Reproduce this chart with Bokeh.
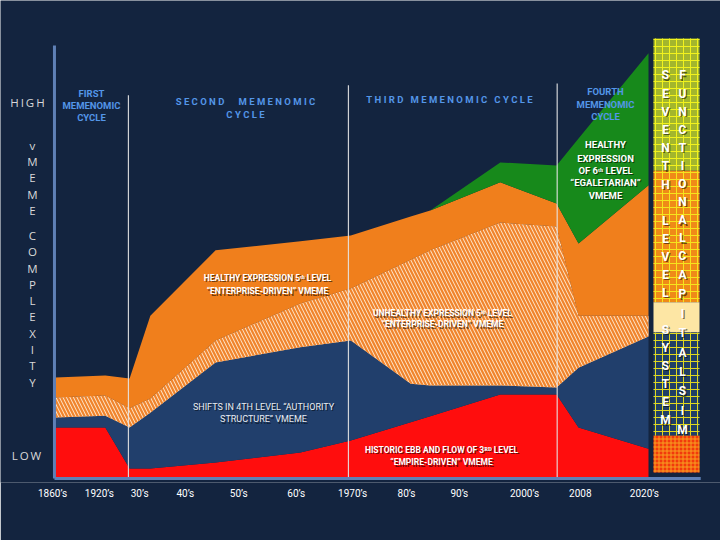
from bokeh.plotting import figure
from bokeh.models import Range1d, FixedTicker, ColumnDataSource
from bokeh.embed import file_html
from bokeh.resources import INLINE
from bokeh.core.properties import value

# ---------------- data (x: timeline position 0-100, y: vMEME complexity 0-100) -------------
era_x = [0, 8.4, 12.5, 16.0, 27.0, 41.3, 49.8, 59.9, 63.2, 75.0, 84.5, 88.2, 100]
empire_top = [11.8, 11.8, 2.3, 2.3, 3.7, 6.0, 8.8, 13.0, 14.4, 19.4, 19.4, 11.8, 6.9]
authority_top = [14.1, 14.5, 11.8, 15.2, 26.8, 30.3, 31.9, 21.9, 21.5, 21.5, 21.0, 25.6, 32.8]
unhealthy5_top = [18.7, 19.2, 16.2, 18.5, 31.9, 40.4, 43.9, 50.5, 52.7, 59.1, 58.2, 37.6, 37.6]
healthy5_top = [23.3, 23.8, 23.1, 37.6, 52.7, 54.8, 56.1, 60.5, 61.9, 68.4, 63.5, 54.3, 67.7]
healthy6_top = [23.3, 23.8, 23.1, 37.6, 52.7, 54.8, 56.1, 60.5, 61.9, 73.0, 72.3, 78.5, 98.2]

tick_pos = [-0.5, 7.4, 14.2, 21.9, 30.9, 40.6, 50.1, 59.2, 68.1, 79.1, 88.5, 99.3]
tick_labels = ["1860’s", "1920’s", "30’s", "40’s", "50’s", "60’s", "1970’s",
               "80’s", "90’s", "2000’s", "2008", "2020’s"]

cycle_bounds = [12.3, 49.4, 84.6]
cycle_tops = [88.5, 90.8, 91.2]

column_bottoms = [71.1, 40.7, 33.7, 9.9, 1.4]
column_tops = [101.6, 71.1, 40.7, 33.7, 9.9]

# ---------------- styling ----------------
BG = "#13243f"
RED = "#ff0d0d"
NAVY = "#213f6c"
ORANGE = "#f07f1c"
PEACH = "#fde3c6"
GREEN = "#17891b"
CYCLE_BLUE = "#5496e8"
AXIS_BLUE = "#5f80b6"
SANS = value("Roboto")
NB = "\u00a0"


def spaced(s, gap=1):
    """letter-spaced title using non-collapsing spaces"""
    words = s.split(" ")
    return (NB * (gap + 2)).join((NB * gap).join(list(w)) for w in words)


p = figure(width=720, height=540,
           x_range=Range1d(-9.27, 112.14), y_range=Range1d(-0.92, 110.39),
           output_backend="svg", toolbar_location=None, y_axis_location=None,
           min_border_left=0, min_border_right=0, min_border_top=0, min_border_bottom=58,
           background_fill_color=BG, border_fill_color=BG, outline_line_color=None)
p.grid.grid_line_color = None

zeros = [0] * len(era_x)
p.varea(x=era_x, y1=zeros, y2=empire_top, fill_color=RED)
p.varea(x=era_x, y1=empire_top, y2=authority_top, fill_color=NAVY)
p.varea(x=era_x, y1=authority_top, y2=unhealthy5_top, fill_color=PEACH,
        hatch_pattern="\\", hatch_color="#f0842c", hatch_scale=7, hatch_weight=2.2)
p.varea(x=era_x, y1=unhealthy5_top, y2=healthy5_top, fill_color=ORANGE)
p.varea(x=era_x, y1=healthy5_top, y2=healthy6_top, fill_color=GREEN)

# cycle boundaries
p.segment(x0=cycle_bounds, y0=[0] * 3, x1=cycle_bounds, y1=cycle_tops,
          line_color="#e6e6e6", line_width=1.2, line_alpha=0.9)

# axes lines
p.segment(x0=[-0.17, -0.17], y0=[0, 0], x1=[-0.17, 108.8], y1=[100, 0],
          line_color=AXIS_BLUE, line_width=3)

# right column (seventh level functional capitalism)
col_fill = ["#a3b62d", "#ef8a18", "#fde6a4", "#203f66", "#f23a0c"]
col_hatch = ["#f2f21d", "#f5e41d", "#fde6a4", "#e0d820", "#f7a020"]
col_pattern = ["+", "+", " ", "+", "+"]
col_scale = [7, 7, 7, 7, 4]
for b, t, f, hc, hp, hs in zip(column_bottoms, column_tops, col_fill, col_hatch, col_pattern, col_scale):
    p.quad(left=100.84, right=108.6, bottom=b, top=t, fill_color=f, line_color=None,
           hatch_pattern=hp, hatch_color=hc, hatch_scale=hs, hatch_weight=1)


def add_text(xs, ys, texts, size, color, bold=True, shadow=True, font=SANS):
    src = ColumnDataSource(dict(x=xs, y=ys, t=texts))
    style = "bold" if bold else "normal"
    if shadow:
        p.text(x="x", y="y", text="t", source=src, text_font=font, text_font_size=size,
               text_font_style=style, text_color="#000000", text_alpha=0.55,
               text_align="center", text_baseline="middle", x_offset=1.2, y_offset=1.2)
    p.text(x="x", y="y", text="t", source=src, text_font=font, text_font_size=size,
           text_font_style=style, text_color=color,
           text_align="center", text_baseline="middle")


# left side vertical axis texts
LEFT_FONT = value("Open Sans")
add_text([-4.72, -4.89], [86.84, 5.31], ["H\u2009I\u2009G\u2009H", "L\u2009O\u2009W"], "11.5px",
         "#d9d9d9", bold=False, shadow=False, font=LEFT_FONT)
vm = "vMEME"
cx = "COMPLEXITY"
add_text([-3.88] * len(vm), [76.9 - 3.74 * i for i in range(len(vm))], list(vm), "11.5px",
         "#d9d9d9", bold=False, shadow=False, font=LEFT_FONT)
add_text([-3.88] * len(cx), [56.12 - 3.76 * i for i in range(len(cx))], list(cx), "11.5px",
         "#d9d9d9", bold=False, shadow=False, font=LEFT_FONT)

# cycle titles
add_text([6.07, 6.07, 6.07], [88.9, 86.2, 83.4], ["FIRST", "MEMENOMIC", "CYCLE"],
         "9.5px", CYCLE_BLUE, shadow=False)
add_text([32.04, 32.04], [87.07, 84.06], [spaced("SECOND  MEMENOMIC"), spaced("CYCLE")],
         "9.5px", CYCLE_BLUE, shadow=False)
add_text([66.44], [87.53], [spaced("THIRD MEMENOMIC CYCLE")],
         "9.5px", CYCLE_BLUE, shadow=False)
add_text([92.75, 92.75, 92.75], [89.38, 86.37, 83.6], ["FOURTH", "MEMENOMIC", "CYCLE"],
         "9.5px", CYCLE_BLUE, shadow=False)

# area labels
add_text([35.75, 35.75], [46.42, 43.19],
         ["HEALTHY EXPRESSION 5ᵗʰ LEVEL", "“ENTERPRISE-DRIVEN” VMEME"], "8.5px", "white")
add_text([65.26, 65.26], [38.11, 35.57],
         ["UNHEALTHY EXPRESSION 5ᵗʰ LEVEL", "“ENTERPRISE-DRIVEN” VMEME"], "8.5px", "white")
add_text([35.08, 35.08], [16.63, 13.63],
         ["SHIFTS IN 4TH LEVEL “AUTHORITY", "STRUCTURE” VMEME"], "9px", "#e8ecf2",
         bold=False)
add_text([65.09, 65.09], [6.70, 3.70],
         ["HISTORIC EBB AND FLOW OF 3ᴿᴰ LEVEL", "“EMPIRE-DRIVEN” VMEME"], "8.5px", "white")
add_text([92.75] * 5, [77.14, 73.9, 71.13, 68.36, 65.36],
         ["HEALTHY", "EXPRESSION", "OF 6ᵗʰ LEVEL", "“EGALETARIAN”", "VMEME"], "9.5px", "white")

# column letters
left_words = [("SEVENTH", 93.07), ("LEVEL", 59.58), ("SYSTEM", 34.41)]
for w, y0 in left_words:
    add_text([102.87] * len(w), [y0 - 4.2 * i for i in range(len(w))], list(w), "12px", "white")
right_words = [("FUNCTIONAL", 93.07, 4.18), ("CAPITALSIM", 51.5, 4.48)]
for w, y0, st in right_words:
    add_text([105.73] * len(w), [y0 - st * i for i in range(len(w))], list(w), "12px", "white")

# x axis
p.xaxis.ticker = FixedTicker(ticks=tick_pos)
p.xaxis.major_label_overrides = {t: l for t, l in zip(tick_pos, tick_labels)}
p.xaxis.axis_line_color = None
p.xaxis.major_tick_line_color = None
p.xaxis.minor_tick_line_color = None
p.xaxis.major_tick_out = 0
p.xaxis.major_tick_in = 0
p.xaxis.major_label_standoff = 5
p.xaxis.major_label_text_color = "white"
p.xaxis.major_label_text_font = "Roboto"
p.xaxis.major_label_text_font_size = "10px"

html = file_html(p, INLINE)
html = html.replace("<body>", '<body style="background:%s">' % BG, 1)
open("out.html", "w").write(html)
